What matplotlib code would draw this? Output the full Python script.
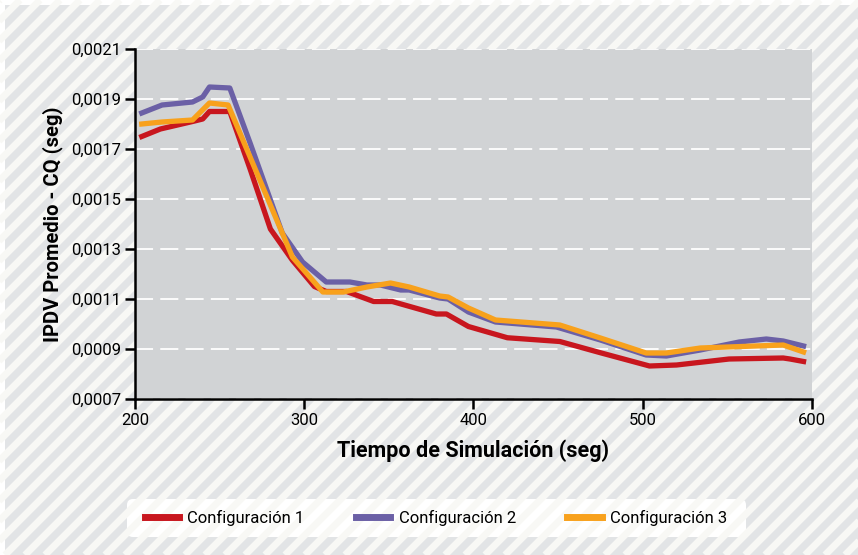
import matplotlib
matplotlib.use("Agg")
import matplotlib.pyplot as plt
from matplotlib.patches import FancyBboxPatch, Rectangle
from matplotlib.lines import Line2D
import numpy as np

plt.rcParams['font.family'] = ['Roboto', 'DejaVu Sans']

# ---- data ----
series_names = ["Configuración 1", "Configuración 2", "Configuración 3"]
x1 = [204, 215, 234, 240, 244, 256, 268, 280, 293, 306, 313, 325, 341, 352, 378, 384,
      397, 420, 451, 475, 504, 520, 551, 583, 587, 595]
y1 = [0.00175, 0.00178, 0.00181, 0.00182, 0.00185, 0.00185, 0.00162, 0.00138, 0.001255,
      0.00115, 0.00113, 0.00113, 0.00109, 0.00109, 0.00104, 0.00104, 0.00099, 0.000945,
      0.00093, 0.000885, 0.000832, 0.000836, 0.00086, 0.000864, 0.00086, 0.00085]
x2 = [204, 216, 234, 240, 244, 256, 268, 287, 299, 313, 327, 337, 345, 357, 362, 380,
      385, 397, 413, 449, 475, 502, 514, 534, 557, 573, 583, 595]
y2 = [0.001844, 0.001876, 0.001888, 0.001908, 0.001948, 0.001944, 0.001724, 0.001364,
      0.001248, 0.001168, 0.001168, 0.001156, 0.001156, 0.001136, 0.001136, 0.001104,
      0.0011, 0.001048, 0.001008, 0.000988, 0.000936, 0.000876, 0.000872, 0.000896,
      0.000928, 0.00094, 0.000932, 0.000912]
x3 = [204, 216, 234, 244, 255, 268, 293, 311, 323, 337, 351, 362, 380, 385, 397, 413,
      451, 475, 502, 514, 534, 583, 595]
y3 = [0.0018, 0.001808, 0.001816, 0.001884, 0.001876, 0.001668, 0.001268, 0.001128,
      0.001128, 0.001148, 0.001164, 0.001148, 0.001112, 0.001108, 0.001064, 0.001016,
      0.000996, 0.000944, 0.000884, 0.000884, 0.000904, 0.000916, 0.000888]
yticks = [0.0007, 0.0009, 0.0011, 0.0013, 0.0015, 0.0017, 0.0019, 0.0021]
ytick_labels = ["0,0007", "0,0009", "0,0011", "0,0013", "0,0015", "0,0017", "0,0019", "0,0021"]
xticks = [200, 300, 400, 500, 600]
colors = ["#c8161e", "#6b60a6", "#f8a11c"]

W, H = 858, 555
fig = plt.figure(figsize=(W / 100, H / 100), dpi=100)
fig.patch.set_facecolor("white")

# ---- striped background ----
bg = fig.add_axes([0, 0, 1, 1])
bg.set_xlim(0, W)
bg.set_ylim(H, 0)
bg.axis("off")
bg.add_patch(Rectangle((5, 5), W, H, facecolor="#e2e4e6", edgecolor="none"))
clip = Rectangle((5, 5), W, H, transform=bg.transData)
for k in np.arange(-H, W + H, 20):
    ln = Line2D([k, k + H], [H, 0], color="#f8f8f5", lw=5.0, solid_capstyle="butt")
    ln.set_clip_path(clip)
    bg.add_line(ln)

# ---- legend box ----
bg.add_patch(FancyBboxPatch((127, 499), 619, 38, boxstyle="round,pad=0,rounding_size=6",
                            facecolor="white", edgecolor="none"))

# ---- main axes ----
ax = fig.add_axes([135 / W, 1 - 399 / H, (812 - 135) / W, (399 - 49) / H])
ax.set_facecolor("#d1d3d5")
ax.plot(x1, y1, color=colors[0], lw=3.8, label=series_names[0], zorder=3)
ax.plot(x2, y2, color=colors[1], lw=3.8, label=series_names[1], zorder=3)
ax.plot(x3, y3, color=colors[2], lw=3.8, label=series_names[2], zorder=4)

ax.set_xlim(200, 600)
ax.set_ylim(0.0007, 0.0021)
ax.set_yticks(yticks)
ax.set_yticklabels(ytick_labels)
ax.set_xticks(xticks)
ax.yaxis.grid(True, color="white", lw=1.3, linestyle=(0, (10, 4)))
ax.set_axisbelow(True)
for s in ["top", "right"]:
    ax.spines[s].set_visible(False)
for s in ["left", "bottom"]:
    ax.spines[s].set_linewidth(1.8)
    ax.spines[s].set_color("black")
ax.tick_params(axis="both", direction="out", length=7, width=1.8, labelsize=12,
               colors="black", pad=3)
ax.set_ylabel("IPDV Promedio - CQ (seg)", fontsize=14.5, fontweight="bold", labelpad=6)
ax.set_xlabel("Tiempo de Simulación (seg)", fontsize=15.5, fontweight="bold", labelpad=8)

leg = fig.legend(loc="center", bbox_to_anchor=(436 / W, 1 - 518 / H), ncol=3,
                 frameon=False, fontsize=12, handlelength=2.05, handletextpad=0.5,
                 columnspacing=3.1)
for h in leg.get_lines():
    h.set_linewidth(5)

fig.savefig("out.png", dpi=100, facecolor=fig.get_facecolor())
